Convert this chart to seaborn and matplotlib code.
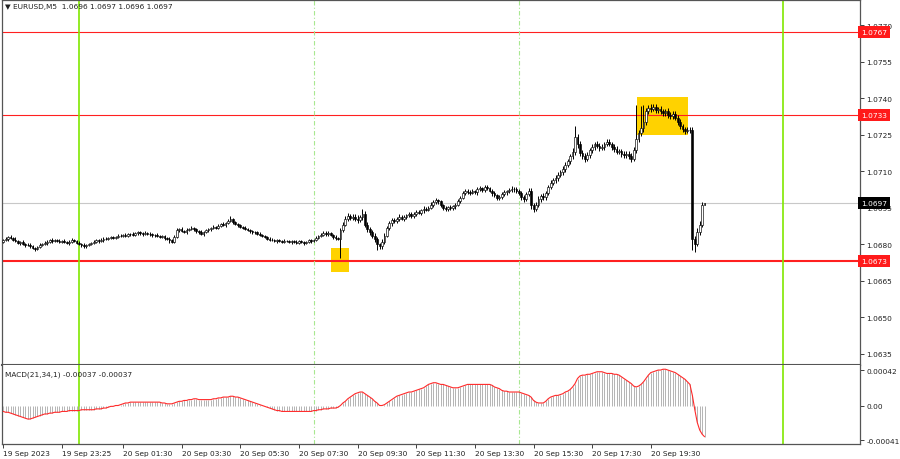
import matplotlib
matplotlib.use("Agg")
import matplotlib.pyplot as plt
import numpy as np
import seaborn as sns

# Style first, then the font list (set_theme resets font.family)
sns.set_theme(style="white")
plt.rcParams["font.family"] = ["DejaVu Sans"]

# ---------------- data ----------------
symbol_title = "\u25bc EURUSD,M5  1.0696 1.0697 1.0696 1.0697"
macd_title = "MACD(21,34,1) -0.00037 -0.00037"

# 5-minute closes, 19 Sep 21:25 -> 20 Sep 21:20, one row per hour
first_open = 1.06810
closes = [
    1.06815, 1.06822, 1.06830, 1.06826, 1.06818, 1.06812, 1.06805, 1.06808, 1.06800, 1.06795, 1.06798, 1.06790,
    1.06785, 1.06780, 1.06788, 1.06795, 1.06800, 1.06806, 1.06810, 1.06815, 1.06812, 1.06816, 1.06813, 1.06810,
    1.06812, 1.06808, 1.06805, 1.06810, 1.06815, 1.06812, 1.06806, 1.06800, 1.06795, 1.06790, 1.06796, 1.06802,
    1.06805, 1.06810, 1.06815, 1.06812, 1.06818, 1.06822, 1.06820, 1.06825, 1.06828, 1.06826, 1.06830, 1.06832,
    1.06835, 1.06838, 1.06834, 1.06840, 1.06842, 1.06838, 1.06845, 1.06848, 1.06844, 1.06842, 1.06846, 1.06843,
    1.06840, 1.06836, 1.06838, 1.06834, 1.06830, 1.06832, 1.06826, 1.06822, 1.06815, 1.06810, 1.06830, 1.06858,
    1.06862, 1.06855, 1.06850, 1.06858, 1.06862, 1.06866, 1.06860, 1.06852, 1.06848, 1.06842, 1.06850, 1.06856,
    1.06860, 1.06866, 1.06872, 1.06868, 1.06876, 1.06882, 1.06878, 1.06886, 1.06895, 1.06902, 1.06890, 1.06882,
    1.06878, 1.06872, 1.06868, 1.06862, 1.06858, 1.06852, 1.06848, 1.06850, 1.06842, 1.06838, 1.06835, 1.06830,
    1.06822, 1.06818, 1.06815, 1.06812, 1.06816, 1.06812, 1.06810, 1.06814, 1.06812, 1.06808, 1.06812, 1.06810,
    1.06806, 1.06812, 1.06808, 1.06804, 1.06810, 1.06815, 1.06812, 1.06818, 1.06825, 1.06832, 1.06838, 1.06845,
    1.06840, 1.06846, 1.06838, 1.06830, 1.06825, 1.06822, 1.06858, 1.06880, 1.06905, 1.06915, 1.06908, 1.06912,
    1.06905, 1.06898, 1.06910, 1.06925, 1.06880, 1.06862, 1.06848, 1.06835, 1.06820, 1.06800, 1.06790, 1.06810,
    1.06835, 1.06865, 1.06885, 1.06900, 1.06895, 1.06905, 1.06912, 1.06905, 1.06910, 1.06918, 1.06922, 1.06915,
    1.06925, 1.06932, 1.06928, 1.06938, 1.06945, 1.06942, 1.06950, 1.06962, 1.06972, 1.06980, 1.06975, 1.06960,
    1.06950, 1.06945, 1.06952, 1.06948, 1.06955, 1.06962, 1.06975, 1.06990, 1.07010, 1.07020, 1.07015, 1.07010,
    1.07018, 1.07012, 1.07025, 1.07030, 1.07022, 1.07035, 1.07030, 1.07020, 1.07008, 1.07000, 1.06990, 1.06995,
    1.07005, 1.07012, 1.07018, 1.07022, 1.07028, 1.07025, 1.07018, 1.07010, 1.06995, 1.06985, 1.07005, 1.07020,
    1.06960, 1.06945, 1.06962, 1.06985, 1.06998, 1.06992, 1.07010, 1.07035, 1.07050, 1.07062, 1.07070, 1.07085,
    1.07095, 1.07110, 1.07125, 1.07140, 1.07160, 1.07180, 1.07240, 1.07210, 1.07175, 1.07160, 1.07150, 1.07165,
    1.07185, 1.07200, 1.07212, 1.07205, 1.07195, 1.07200, 1.07210, 1.07220, 1.07212, 1.07200, 1.07190, 1.07180,
    1.07182, 1.07170, 1.07165, 1.07172, 1.07160, 1.07150, 1.07185, 1.07230, 1.07255, 1.07275, 1.07300, 1.07345,
    1.07360, 1.07355, 1.07362, 1.07350, 1.07355, 1.07345, 1.07338, 1.07345, 1.07330, 1.07325, 1.07335, 1.07320,
    1.07300, 1.07285, 1.07272, 1.07265, 1.07270, 1.07268, 1.06820, 1.06800, 1.06850, 1.06880, 1.06960, 1.06970,
]
# upper / lower shadows beyond the body, in 1e-5 units, one row per hour
wick_up = [
    5, 8, 4, 6, 5, 9, 4, 5, 7, 4, 8, 5,
    6, 4, 5, 8, 4, 5, 7, 4, 9, 5, 4, 6,
    5, 7, 4, 5, 8, 4, 6, 5, 4, 8, 5, 4,
    4, 6, 5, 4, 8, 5, 6, 4, 5, 7, 4, 8,
    5, 4, 6, 5, 4, 8, 5, 6, 4, 5, 8, 4,
    6, 5, 4, 8, 5, 4, 6, 5, 8, 4, 9, 6,
    5, 8, 4, 6, 5, 9, 4, 5, 6, 8, 4, 5,
    6, 5, 8, 4, 6, 5, 8, 6, 9, 12, 5, 6,
    5, 6, 4, 8, 5, 4, 6, 5, 4, 6, 5, 4,
    4, 5, 6, 4, 5, 4, 6, 5, 4, 5, 4, 5,
    5, 4, 6, 5, 4, 5, 6, 4, 8, 5, 6, 9,
    8, 6, 5, 4, 6, 5, 9, 12, 10, 13, 9, 12,
    10, 13, 9, 8, 12, 9, 8, 10, 9, 8, 6, 9,
    12, 9, 10, 8, 9, 6, 10, 8, 9, 6, 8, 9,
    8, 6, 9, 8, 10, 6, 8, 9, 8, 10, 6, 8,
    6, 8, 5, 9, 6, 8, 9, 8, 10, 8, 6, 9,
    8, 6, 9, 8, 6, 9, 8, 6, 8, 9, 6, 8,
    8, 9, 6, 8, 9, 6, 8, 9, 8, 6, 10, 9,
    12, 9, 10, 13, 9, 12, 10, 9, 12, 10, 13, 12,
    10, 12, 13, 10, 12, 14, 15, 13, 12, 10, 13, 12,
    10, 12, 9, 13, 10, 12, 9, 10, 12, 9, 10, 12,
    9, 10, 12, 9, 10, 13, 12, 14, 12, 13, 10, 14,
    12, 14, 13, 12, 10, 13, 12, 10, 13, 12, 10, 12,
    9, 12, 10, 9, 12, 13, 14, 15, 14, 13, 12, 0,
]
wick_dn = [
    6, 4, 8, 5, 6, 4, 5, 8, 4, 6, 5, 8,
    5, 8, 4, 6, 5, 4, 8, 5, 6, 4, 5, 6,
    4, 5, 6, 8, 4, 5, 6, 4, 8, 5, 6, 5,
    6, 4, 5, 6, 4, 8, 5, 4, 6, 5, 4, 5,
    4, 6, 5, 4, 8, 5, 4, 6, 5, 8, 4, 6,
    5, 6, 8, 4, 6, 5, 8, 6, 9, 5, 6, 5,
    8, 5, 6, 8, 4, 6, 5, 8, 6, 5, 8, 4,
    5, 6, 4, 8, 5, 6, 4, 8, 5, 6, 9, 5,
    6, 5, 8, 4, 6, 5, 8, 5, 6, 4, 8, 5,
    5, 6, 4, 5, 6, 4, 5, 6, 4, 5, 6, 4,
    5, 6, 4, 8, 5, 4, 6, 5, 4, 6, 5, 4,
    6, 8, 5, 9, 8, 6, 8, 9, 6, 9, 8, 10,
    9, 12, 8, 10, 9, 12, 10, 9, 13, 12, 10, 9,
    10, 8, 9, 12, 8, 10, 9, 8, 10, 9, 8, 6,
    8, 9, 6, 8, 9, 6, 8, 6, 9, 8, 10, 9,
    9, 8, 10, 6, 8, 9, 6, 8, 6, 8, 9, 8,
    6, 8, 9, 6, 8, 6, 9, 8, 9, 8, 10, 9,
    8, 6, 9, 8, 6, 9, 8, 10, 12, 13, 9, 8,
    14, 12, 10, 9, 12, 10, 9, 8, 10, 9, 12, 10,
    9, 10, 12, 9, 10, 12, 14, 15, 13, 12, 14, 10,
    12, 10, 13, 9, 12, 10, 12, 9, 10, 12, 13, 10,
    10, 12, 13, 10, 12, 14, 10, 9, 12, 10, 13, 9,
    10, 12, 9, 13, 10, 12, 13, 10, 12, 13, 10, 12,
    12, 13, 10, 12, 9, 10, 0, 0, 0, 12, 9, 0,
]
# long shadows that stand out (bar index -> price)
high_wicks = {147: 1.06945, 234: 1.07285, 259: 1.07372, 261: 1.07368, 262: 1.07370, 287: 1.06970}
low_wicks = {138: 1.06744, 153: 1.06775, 282: 1.06775, 283: 1.06768, 284: 1.06790}

# MACD(21,34,1) in units of 1e-5, one value per bar
macd_e5 = [
    -7, -8, -8, -9, -10, -11, -12, -13, -14, -15, -16, -16,
    -15, -14, -13, -12, -11, -10, -10, -9, -9, -8, -8, -8,
    -7, -7, -7, -6, -6, -6, -6, -6, -5, -5, -5, -5,
    -5, -5, -4, -4, -4, -3, -3, -2, -1, -1, 0, 0,
    1, 2, 3, 3, 4, 4, 4, 4, 4, 4, 4, 4,
    4, 4, 4, 4, 4, 3, 3, 2, 2, 2, 3, 4,
    5, 5, 6, 6, 7, 7, 8, 8, 7, 7, 7, 7,
    7, 7, 8, 8, 9, 9, 10, 10, 10, 11, 11, 10,
    10, 9, 8, 7, 6, 5, 4, 3, 2, 1, 0, -1,
    -2, -3, -4, -5, -6, -6, -7, -7, -7, -7, -7, -7,
    -7, -7, -7, -7, -7, -7, -7, -6, -6, -5, -5, -4,
    -4, -4, -3, -3, -3, -2, 0, 3, 5, 8, 10, 12,
    14, 15, 16, 16, 14, 12, 10, 8, 5, 3, 0, 0,
    1, 3, 5, 7, 9, 11, 12, 13, 14, 15, 16, 16,
    17, 18, 19, 20, 21, 23, 25, 26, 27, 27, 26, 25,
    25, 24, 23, 22, 21, 21, 21, 22, 23, 24, 25, 25,
    25, 25, 25, 25, 25, 25, 25, 25, 24, 22, 21, 20,
    18, 17, 17, 16, 16, 16, 16, 16, 15, 14, 13, 12,
    10, 6, 4, 3, 3, 3, 5, 8, 10, 11, 12, 12,
    13, 14, 16, 17, 19, 22, 26, 32, 35, 36, 36, 37,
    37, 38, 39, 40, 40, 40, 39, 38, 38, 38, 37, 37,
    36, 34, 32, 30, 28, 26, 23, 22, 23, 25, 28, 32,
    36, 39, 40, 41, 42, 42, 43, 43, 42, 41, 40, 39,
    37, 35, 33, 31, 28, 25, 12, -5, -20, -29, -34, -37,
]

price_ticks = [1.0635, 1.0650, 1.0665, 1.0680, 1.0695, 1.0710, 1.0725, 1.0740, 1.0755, 1.0770]
macd_ticks = [-0.00041, 0.0, 0.00042]
macd_tick_labels = ["-0.00041", "0.00", "0.00042"]

time_tick_bars = [0, 24, 49, 73, 97, 121, 145, 169, 193, 217, 241, 265]
time_tick_labels = ["19 Sep 2023", "19 Sep 23:25", "20 Sep 01:30", "20 Sep 03:30",
                    "20 Sep 05:30", "20 Sep 07:30", "20 Sep 09:30", "20 Sep 11:30",
                    "20 Sep 13:30", "20 Sep 15:30", "20 Sep 17:30", "20 Sep 19:30"]

level_prices = [1.0767, 1.0733, 1.0673]
level_widths = [0.8, 0.8, 1.5]
bid_price = 1.0697
day_bars = [31, 319]
session_bars = [127, 211]
box_x0 = [134.3, 259.2]
box_x1 = [141.6, 280.4]
box_lo = [1.06687, 1.07247]
box_hi = [1.06785, 1.07403]

# ---------------- build candles ----------------
idx = np.arange(len(closes))
close = np.array(closes)
opens = np.concatenate([[first_open], close[:-1]])
body_lo = np.minimum(opens, close)
body_hi = np.maximum(opens, close)
highs = body_hi + np.array(wick_up) * 1e-5
lows = body_lo - np.array(wick_dn) * 1e-5
for k, v in high_wicks.items():
    highs[k] = max(highs[k], v)
for k, v in low_wicks.items():
    lows[k] = min(lows[k], v)
macd = np.array(macd_e5) * 1e-5

fs = 5.3
txt = "#202020"
green = "#80e800"

fig = plt.figure(figsize=(9, 4.6), dpi=100)
ax = fig.add_axes([2 / 900, 1 - 366 / 460, 858 / 900, 365 / 460])
axm = fig.add_axes([2 / 900, 1 - 445 / 460, 858 / 900, 79 / 460], sharex=ax)

# price panel
for x0, x1, lo, hi in zip(box_x0, box_x1, box_lo, box_hi):
    ax.fill_between([x0, x1], lo, hi, color="#ffd200", lw=0, zorder=1)
for p, w in zip(level_prices, level_widths):
    ax.axhline(p, color="#ff2020", lw=w, zorder=2)
ax.axhline(bid_price, color="#c8c8c8", lw=0.8, zorder=2)
for a in (ax, axm):
    for b in day_bars:
        a.axvline(b, color=green, lw=1.2, zorder=2)
    for b in session_bars:
        a.axvline(b, color="#a8e890", lw=0.8, ls=(0, (4, 2, 1, 2)), zorder=2)

ax.vlines(idx, lows, highs, color="black", lw=0.7, zorder=3)
up = close >= opens
ax.bar(idx, np.maximum(body_hi - body_lo, 0.00001), bottom=body_lo, width=0.72,
       color=np.where(up, "white", "black"), edgecolor="black", lw=0.45, zorder=4)

ax.set_xlim(-0.5, 350.6)
ax.set_ylim(1.06303, 1.07803)
ax.yaxis.tick_right()
ax.set_yticks(price_ticks)
ax.set_yticklabels([f"{t:.4f}" for t in price_ticks])
ax.tick_params(axis="y", right=True, direction="out", length=3, width=0.6,
               labelsize=fs, pad=1.5, colors=txt)
ax.tick_params(axis="x", bottom=False, labelbottom=False)
ax.text(0.003, 0.993, symbol_title, transform=ax.transAxes, va="top", ha="left",
        fontsize=fs, color=txt)

# price labels on the right scale
for p in level_prices:
    ax.annotate(f"{p:.4f}", xy=(1, p), xycoords=("axes fraction", "data"),
                xytext=(1.0, 0), textcoords="offset points", ha="left", va="center",
                fontsize=fs, color="white", zorder=10, annotation_clip=False,
                bbox=dict(boxstyle="square,pad=0.4", fc="#ff1a1a", ec="none"))
ax.annotate(f"{bid_price:.4f}", xy=(1, bid_price), xycoords=("axes fraction", "data"),
            xytext=(1.0, 0), textcoords="offset points", ha="left", va="center",
            fontsize=fs, color="white", zorder=10, annotation_clip=False,
            bbox=dict(boxstyle="square,pad=0.4", fc="black", ec="none"))

# MACD panel
axm.vlines(idx, 0, macd, color="#b4b4b4", lw=0.7, zorder=3)
sns.lineplot(x=idx, y=macd, ax=axm, color="#ff2a2a", lw=0.8, zorder=4)
axm.set_ylim(-0.000456, 0.00048)
axm.yaxis.tick_right()
axm.set_yticks(macd_ticks)
axm.set_yticklabels(macd_tick_labels)
axm.tick_params(axis="y", right=True, direction="out", length=3, width=0.6,
                labelsize=fs, pad=1.5, colors=txt)
axm.set_xticks(time_tick_bars)
axm.set_xticklabels(time_tick_labels, ha="left")
axm.tick_params(axis="x", bottom=True, direction="out", length=3, width=0.6,
                labelsize=fs, pad=1.5, colors=txt)
axm.set_xlabel("")
axm.set_ylabel("")
axm.text(0.003, 0.93, macd_title, transform=axm.transAxes, va="top", ha="left",
         fontsize=fs, color=txt)

for a in (ax, axm):
    for s in a.spines.values():
        s.set_color("#555555")
        s.set_linewidth(0.9)
ax.spines["bottom"].set_linewidth(1.5)
axm.spines["top"].set_visible(False)

fig.savefig("out.png", dpi=100, facecolor="white")
